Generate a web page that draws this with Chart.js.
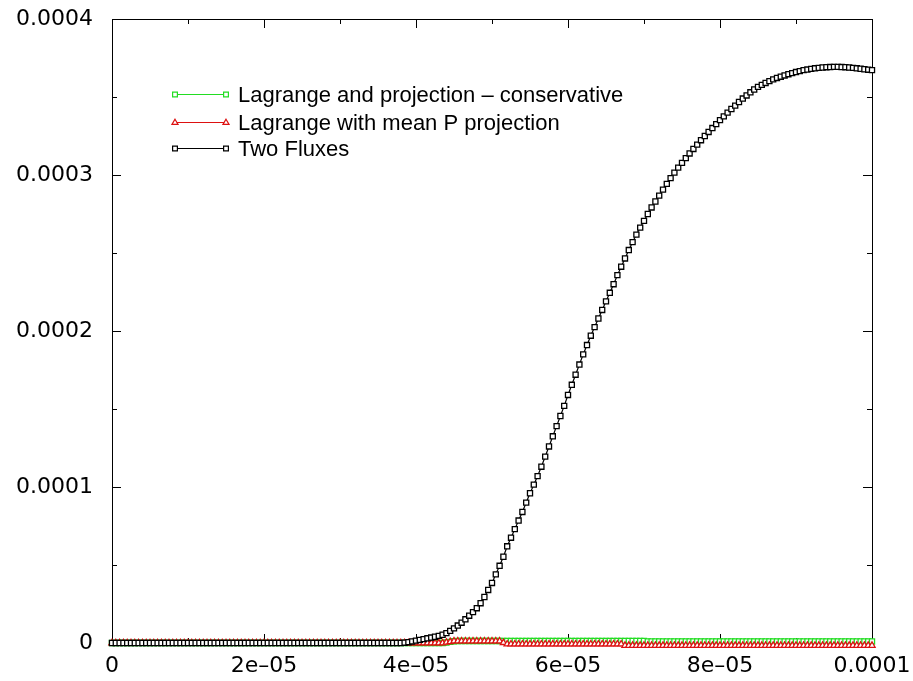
<!DOCTYPE html>
<html>
<head>
<meta charset="utf-8">
<script src="https://cdn.jsdelivr.net/npm/chart.js@4/dist/chart.umd.min.js"></script>
<style>
  html, body { margin: 0; padding: 0; background: #fff; }
  #wrap { width: 913px; height: 681px; }
</style>
</head>
<body>
<div id="wrap"><canvas id="fluxChart" width="913" height="681"></canvas></div>
<script>
// samples are every 5e-7 s, from 0 to 1e-4; series values are in units of 1e-6
const timeStep = 5e-7;
const valueUnit = 1e-6;

const seriesNames = [
  'Lagrange and projection – conservative',
  'Lagrange with mean P projection',
  'Two Fluxes'
];

const conservative = [
  0, 0, 0, 0, 0, 0, 0, 0, 0, 0, 0, 0, 0, 0, 0, 0, 0, 0, 0, 0,
  0, 0, 0, 0, 0, 0, 0, 0, 0, 0, 0, 0, 0, 0, 0, 0, 0, 0, 0, 0,
  0, 0, 0, 0, 0, 0, 0, 0, 0, 0, 0, 0, 0, 0, 0, 0, 0, 0, 0, 0,
  0, 0, 0, 0, 0, 0, 0, 0, 0, 0, 0, 0, 0, 0, 0, 0, 0, 0, 0, 0,
  0, 0, 0, 0, 0, 0, 0, 0, 0.3, 0.7, 1.1, 1.3, 1.3, 1.3, 1.3, 1.3, 1.3, 1.3, 1.3, 1.3,
  1.3, 1.3, 1.3, 1.3, 1.3, 1.3, 1.3, 1.3, 1.3, 1.3, 1.3, 1.3, 1.3, 1.3, 1.3, 1.3, 1.3, 1.3, 1.3, 1.3,
  1.3, 1.3, 1.3, 1.3, 1.3, 1.3, 1.3, 1.3, 1.3, 1.3, 1.3, 1.3, 1.3, 1.3, 1.3, 1.3, 1.3, 1.3, 1.3, 1.3,
  1.3, 1.0, 1.0, 1.0, 1.0, 1.0, 1.0, 1.0, 1.0, 1.0, 1.0, 1.0, 1.0, 1.0, 1.0, 1.0, 1.0, 1.0, 1.0, 1.0,
  1.0, 1.0, 1.0, 1.0, 1.0, 1.0, 1.0, 1.0, 1.0, 1.0, 1.0, 1.0, 1.0, 1.0, 1.0, 1.0, 1.0, 1.0, 1.0, 1.0,
  1.0, 1.0, 1.0, 1.0, 1.0, 1.0, 1.0, 1.0, 1.0, 1.0, 1.0, 1.0, 1.0, 1.0, 1.0, 1.0, 1.0, 1.0, 1.0, 1.0,
  1.0
];

const meanP = [
  0, 0, 0, 0, 0, 0, 0, 0, 0, 0, 0, 0, 0, 0, 0, 0, 0, 0, 0, 0,
  0, 0, 0, 0, 0, 0, 0, 0, 0, 0, 0, 0, 0, 0, 0, 0, 0, 0, 0, 0,
  0, 0, 0, 0, 0, 0, 0, 0, 0, 0, 0, 0, 0, 0, 0, 0, 0, 0, 0, 0,
  0, 0, 0, 0, 0, 0, 0, 0, 0, 0, 0, 0, 0, 0, 0, 0, 0, 0, 0, 0,
  0, 0, 0, 0, 0, 0, 0, 0, 0.4, 0.8, 1.2, 1.2, 1.2, 1.2, 1.2, 1.2, 1.2, 1.2, 1.2, 1.2,
  1.2, 1.2, 1.2, 0.2, -0.7, -0.7, -0.7, -0.7, -0.7, -0.7, -0.7, -0.7, -0.7, -0.7, -0.7, -0.7, -0.7, -0.7, -0.7, -0.7,
  -0.7, -0.7, -0.7, -0.7, -0.7, -0.7, -0.7, -0.7, -0.7, -0.7, -0.7, -0.7, -0.7, -0.7, -0.7, -1.6, -1.6, -1.6, -1.6, -1.6,
  -1.6, -1.6, -1.6, -1.6, -1.6, -1.6, -1.6, -1.6, -1.6, -1.6, -1.6, -1.6, -1.6, -1.6, -1.6, -1.6, -1.6, -1.6, -1.6, -1.6,
  -1.6, -1.6, -1.6, -1.6, -1.6, -1.6, -1.6, -1.6, -1.6, -1.6, -1.6, -1.6, -1.6, -1.6, -1.6, -1.6, -1.6, -1.6, -1.6, -1.6,
  -1.6, -1.6, -1.6, -1.6, -1.6, -1.6, -1.6, -1.6, -1.6, -1.6, -1.6, -1.6, -1.6, -1.6, -1.6, -1.6, -1.6, -1.6, -1.6, -1.6,
  -1.6
];

const twoFluxes = [
  0, 0, 0, 0, 0, 0, 0, 0, 0, 0, 0, 0, 0, 0, 0, 0, 0, 0, 0, 0,
  0, 0, 0, 0, 0, 0, 0, 0, 0, 0, 0, 0, 0, 0, 0, 0, 0, 0, 0, 0,
  0, 0, 0, 0, 0, 0, 0, 0, 0, 0, 0, 0, 0, 0, 0, 0, 0, 0, 0, 0,
  0, 0, 0, 0, 0, 0, 0, 0, 0, 0, 0, 0, 0, 0, 0, 0, 0, 0.2, 0.5, 1,
  1.5, 2, 2.5, 3, 3.5, 4, 4.6, 5.3, 6.3, 7.8, 9.4, 11.2, 13, 15.2, 17.5, 19.8, 22.3, 25.5, 29.5, 34,
  38.5, 44, 49.5, 55.3, 62, 67.5, 73, 78.5, 84, 90, 96, 101.5, 107, 113, 119.5, 126, 132.5, 139, 145.5, 152,
  159, 165.5, 172, 178.5, 185, 191, 197, 202.5, 208, 213.5, 219, 224.5, 230, 235.8, 241.2, 246.5, 251.9, 257, 261.8, 266.3,
  270.6, 275, 279.2, 283, 286.8, 290.6, 294.3, 298, 301.5, 304.7, 307.8, 310.8, 313.8, 316.7, 319.5, 322.3, 325, 327.6, 330.1, 332.6,
  335.2, 337.6, 340, 342.3, 344.5, 346.8, 349, 351, 353, 354.8, 356.5, 357.8, 359, 360.2, 361.3, 362.2, 363, 363.8, 364.6, 365.3,
  366, 366.6, 367.2, 367.6, 368, 368.4, 368.7, 368.9, 369.1, 369.2, 369.3, 369.3, 369.2, 369.1, 368.9, 368.7, 368.4, 368.1, 367.8, 367.5,
  367.2
];

const xTicks = [0, 2e-5, 4e-5, 6e-5, 8e-5, 1e-4];
const xTickLabels = ['0', '2e–05', '4e–05', '6e–05', '8e–05', '0.0001'];
const xMinorTicks = [1e-5, 3e-5, 5e-5, 7e-5, 9e-5];
const yTicks = [0, 1e-4, 2e-4, 3e-4, 4e-4];
const yTickLabels = ['0', '0.0001', '0.0002', '0.0003', '0.0004'];
const yMinorTicks = [5e-5, 1.5e-4, 2.5e-4, 3.5e-4];

const seriesColors = ['#22dd22', '#dd1111', '#000000'];
const seriesMarkers = ['rect', 'triangle', 'rect'];

function toPoints(values) {
  return values.map((v, i) => ({ x: i * timeStep, y: v * valueUnit }));
}

function drawMarker(ctx, style, x, y, r) {
  ctx.beginPath();
  if (style === 'triangle') {
    ctx.moveTo(x, y - r);
    ctx.lineTo(x + r * 0.95, y + r * 0.6);
    ctx.lineTo(x - r * 0.95, y + r * 0.6);
    ctx.closePath();
  } else {
    ctx.rect(x - r * 0.75, y - r * 0.75, r * 1.5, r * 1.5);
  }
  ctx.fillStyle = '#fff';
  ctx.fill();
  ctx.stroke();
}

// keep the plot box where it is: no extra room for half labels
function noScalePadding(s) {
  s.paddingTop = 0;
  s.paddingBottom = 0;
  s.paddingLeft = 0;
  s.paddingRight = 0;
}

// gnuplot style box with inward major/minor ticks on all four sides
const frameTicks = {
  id: 'frameTicks',
  beforeDatasetsDraw(chart) {
    const { ctx, chartArea: a, scales: { x, y } } = chart;
    ctx.save();
    ctx.strokeStyle = '#000';
    ctx.lineWidth = 1;
    ctx.strokeRect(a.left + 0.5, a.top + 0.5, a.right - a.left, a.bottom - a.top);
    ctx.beginPath();
    const xt = (vals, len) => vals.forEach(v => {
      const px = Math.round(x.getPixelForValue(v)) + 0.5;
      ctx.moveTo(px, a.bottom); ctx.lineTo(px, a.bottom - len);
      ctx.moveTo(px, a.top); ctx.lineTo(px, a.top + len);
    });
    const yt = (vals, len) => vals.forEach(v => {
      const py = Math.round(y.getPixelForValue(v)) + 0.5;
      ctx.moveTo(a.left, py); ctx.lineTo(a.left + len, py);
      ctx.moveTo(a.right, py); ctx.lineTo(a.right - len, py);
    });
    xt(xTicks, 9); xt(xMinorTicks, 5);
    yt(yTicks, 9); yt(yMinorTicks, 5);
    ctx.stroke();
    ctx.restore();
  }
};

// key in the upper left: sample line with a marker at each end
const sampleKey = {
  id: 'sampleKey',
  afterDraw(chart) {
    const ctx = chart.ctx;
    const rows = [94, 122, 148];
    ctx.save();
    ctx.font = '22px "Liberation Sans", Arial, sans-serif';
    ctx.textBaseline = 'middle';
    seriesNames.forEach((name, k) => {
      const yy = rows[k] + 0.5;
      ctx.strokeStyle = seriesColors[k];
      ctx.lineWidth = 1.2;
      ctx.beginPath();
      ctx.moveTo(175, yy); ctx.lineTo(226, yy);
      ctx.stroke();
      drawMarker(ctx, seriesMarkers[k], 175, yy, 3.2);
      drawMarker(ctx, seriesMarkers[k], 226, yy, 3.2);
      ctx.fillStyle = '#000';
      ctx.fillText(name, 238, yy + 1);
    });
    ctx.restore();
  }
};

const datasets = [conservative, meanP, twoFluxes].map((vals, k) => ({
  label: seriesNames[k],
  data: toPoints(vals),
  showLine: true,
  borderColor: seriesColors[k],
  borderWidth: 1.2,
  pointStyle: seriesMarkers[k],
  pointRadius: 3.6,
  pointBorderWidth: 1.3,
  pointBorderColor: seriesColors[k],
  pointBackgroundColor: '#fff',
  tension: 0,
  clip: false,
  order: 2 - k
}));

const tickFont = { family: '"DejaVu Sans", sans-serif', size: 22 };

new Chart(document.getElementById('fluxChart'), {
  type: 'scatter',
  data: { datasets: datasets },
  options: {
    responsive: false,
    devicePixelRatio: 1,
    animation: false,
    layout: { padding: { top: 19, right: 41, left: 0, bottom: 0 } },
    plugins: {
      legend: { display: false },
      tooltip: { enabled: false }
    },
    scales: {
      x: {
        type: 'linear',
        min: 0,
        max: 1e-4,
        grid: { display: false, drawTicks: false },
        border: { display: false },
        afterBuildTicks: s => { s.ticks = xTicks.map(v => ({ value: v })); },
        afterFit: s => { s.height = 38; noScalePadding(s); },
        ticks: {
          color: '#000',
          font: tickFont,
          padding: 10,
          maxRotation: 0,
          autoSkip: false,
          callback: (v, i) => xTickLabels[i]
        }
      },
      y: {
        type: 'linear',
        min: 0,
        max: 4e-4,
        grid: { display: false, drawTicks: false },
        border: { display: false },
        afterBuildTicks: s => { s.ticks = yTicks.map(v => ({ value: v })); },
        afterFit: s => { s.width = 112; noScalePadding(s); },
        ticks: {
          color: '#000',
          font: tickFont,
          padding: 19,
          autoSkip: false,
          callback: (v, i) => yTickLabels[i]
        }
      }
    }
  },
  plugins: [frameTicks, sampleKey]
});
</script>
</body>
</html>
